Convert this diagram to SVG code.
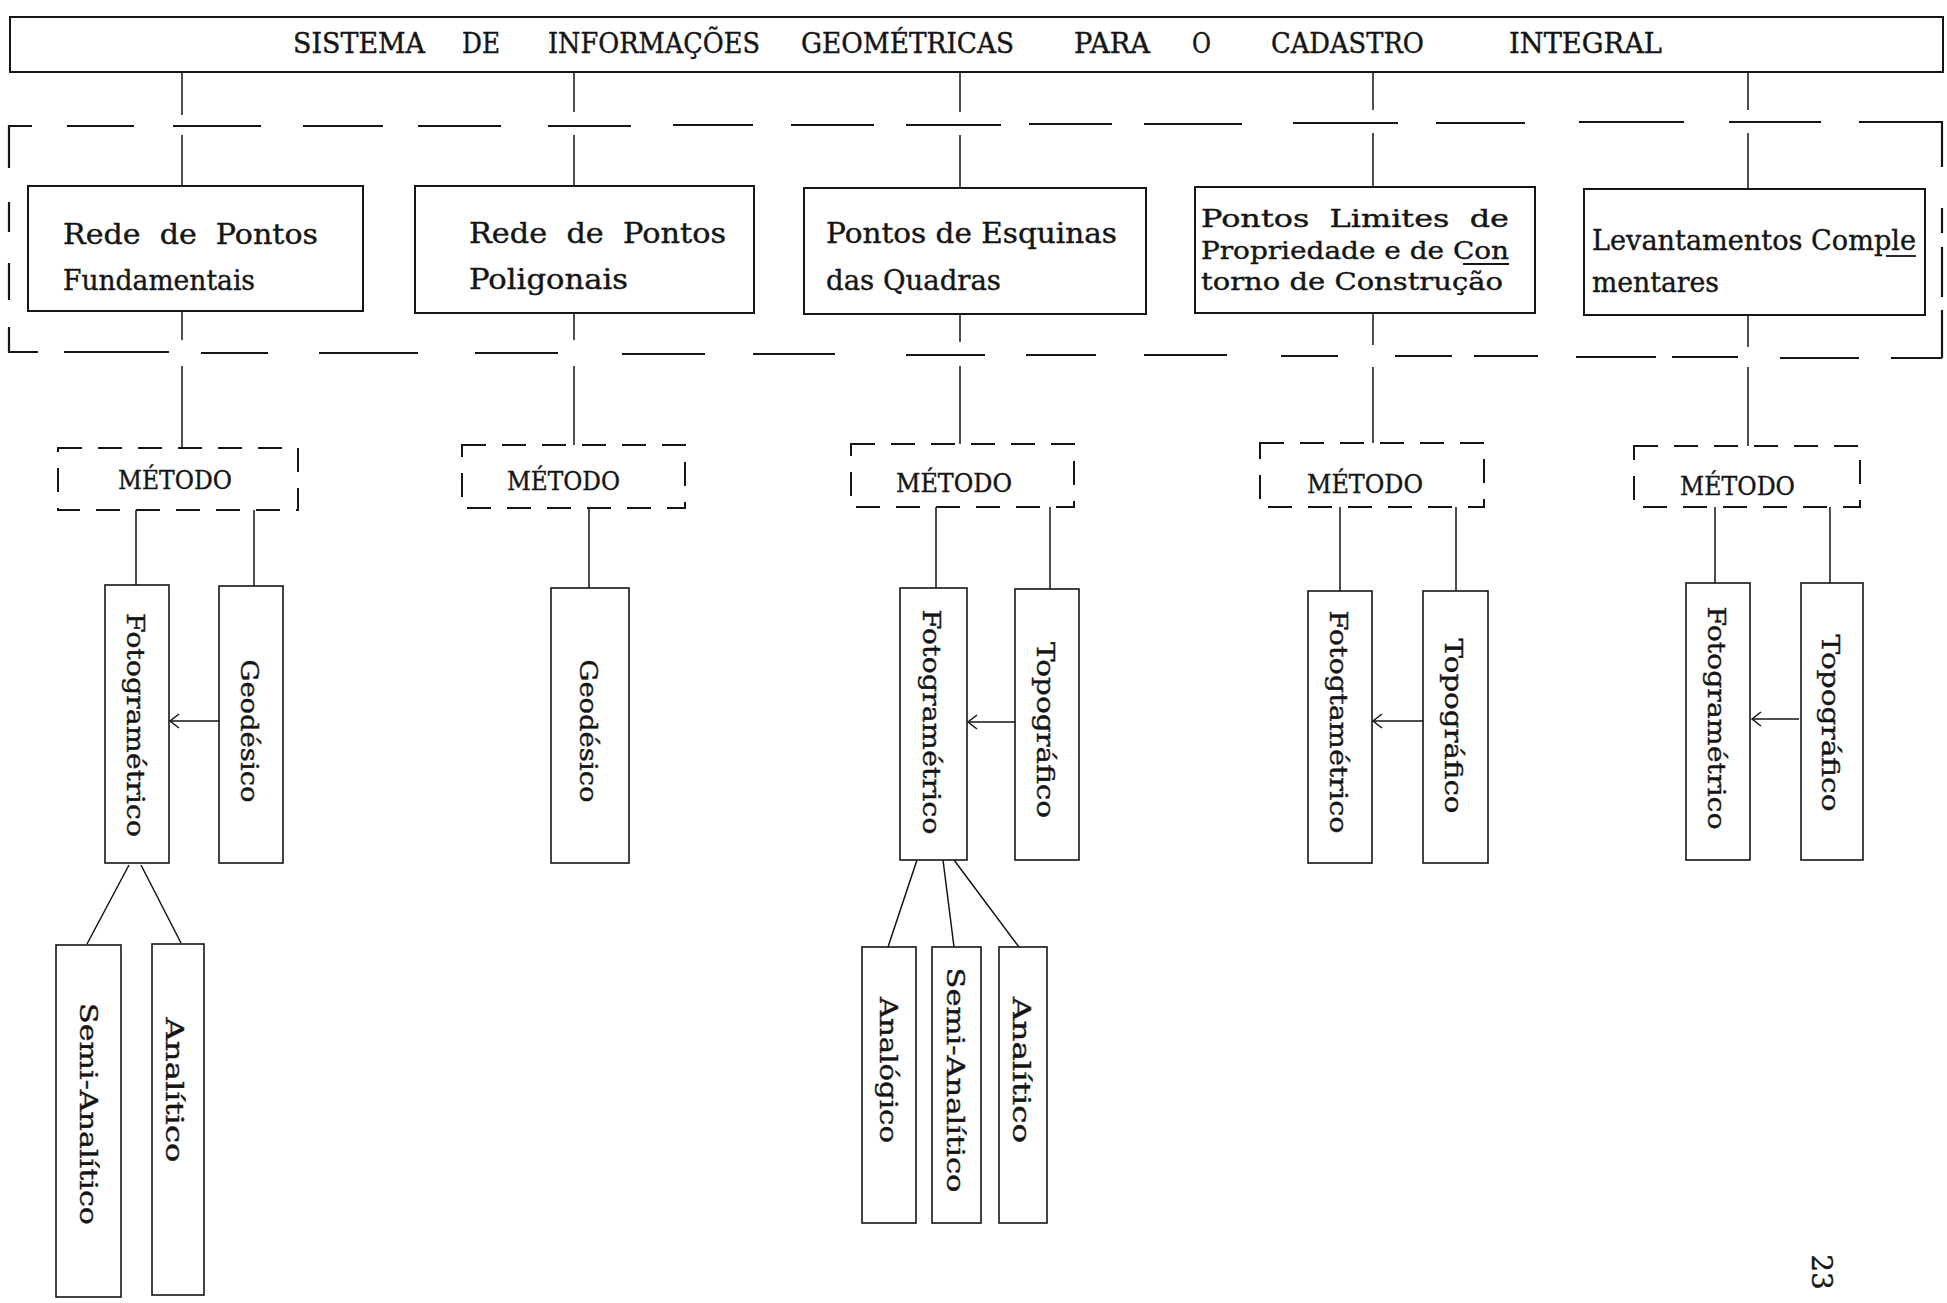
<svg xmlns="http://www.w3.org/2000/svg" width="1947" height="1303" viewBox="0 0 1947 1303">
<style>
.t { font-family: 'DejaVu Serif', 'Liberation Serif', serif; fill: #151515; stroke: #151515; stroke-width: 0.4; }
.box { fill: none; stroke: #151515; stroke-width: 2; }
.leaf { fill: none; stroke: #151515; stroke-width: 1.6; }
.dbox { fill: none; stroke: #151515; stroke-width: 2; stroke-dasharray: 24 16; }
.c { fill: none; stroke: #151515; stroke-width: 1.5; }
.dash { fill: none; stroke: #151515; stroke-width: 2.2; }
.ul { stroke: #151515; stroke-width: 1.8; }
</style>
<defs>
<marker id="ah" markerWidth="14" markerHeight="16" refX="11" refY="8" orient="auto" markerUnits="userSpaceOnUse">
<path d="M2,1 L11,8 L2,15" fill="none" stroke="#151515" stroke-width="1.5"/>
</marker>
</defs>
<rect width="1947" height="1303" fill="#ffffff"/>

<!-- large dashed frame -->
<g id="frame">
<path class="dash" d="M32,126 L9,126 L9,168 M9,202 L9,232 M9,263 L9,300 M9,327 L9,352 L38,352
M67,126 L134,126 M173,126 L261,126 M303,126 L383,126 M418,126 L501,126 M548,126 L631,126 M673,125 L753,125 M791,125 L874,125 M906,125 L1001,125 M1029,124 L1112,124 M1144,124 L1242,124 M1293,123 L1398,123 M1436,123 L1525,123 M1579,122 L1684,122 M1729,122 L1821,122 M1859,122 L1942,122 L1942,167 M1942,208 L1942,233 M1942,247 L1942,297 M1942,310 L1942,358
M64,352 L169,352 M201,353 L268,353 M319,353 L418,353 M475,353 L558,353 M622,354 L705,354 M753,354 L835,354 M906,355 L985,355 M1026,355 L1096,355 M1144,355 L1227,355 M1281,356 L1338,356 M1395,356 L1452,356 M1474,356 L1538,356 M1576,357 L1656,357 M1672,357 L1738,357 M1780,358 L1859,358 M1891,358 L1942,358"/>
</g>

<g id="connectors">
<!-- title to nodes -->
<path class="c" d="M182,72 L182,115 M182,135 L182,186 M182,312 L182,340 M182,366 L182,448"/>
<path class="c" d="M574,72 L574,112 M574,135 L574,186 M574,313 L574,340 M574,366 L574,445"/>
<path class="c" d="M960,72 L960,112 M960,135 L960,188 M960,314 L960,342 M960,366 L960,444"/>
<path class="c" d="M1373,72 L1373,110 M1373,133 L1373,187 M1373,314 L1373,345 M1373,367 L1373,443"/>
<path class="c" d="M1748,72 L1748,110 M1748,133 L1748,188 M1748,316 L1748,347 M1748,367 L1748,446"/>
<!-- metodo to leaves -->
<path class="c" d="M136,510 L136,585 M254,510 L254,586"/>
<path class="c" d="M589,508 L589,588"/>
<path class="c" d="M936,507 L936,588 M1050,507 L1050,589"/>
<path class="c" d="M1340,507 L1340,591 M1456,507 L1456,591"/>
<path class="c" d="M1715,507 L1715,583 M1830,507 L1830,583"/>
<!-- arrows -->
<line class="c" x1="219" y1="721" x2="170" y2="721" marker-end="url(#ah)"/>
<line class="c" x1="1015" y1="722" x2="968" y2="722" marker-end="url(#ah)"/>
<line class="c" x1="1423" y1="721" x2="1373" y2="721" marker-end="url(#ah)"/>
<line class="c" x1="1799" y1="719" x2="1752" y2="719" marker-end="url(#ah)"/>
<!-- sub branches -->
<path class="c" d="M129,865 L87,944 M141,865 L181,943"/>
<path class="c" d="M917,860 L888,947 M943,860 L954,947 M954,860 L1019,947"/>
</g>

<g id="title">
<rect class="box" x="10" y="17" width="1933" height="55"/>
<text class="t" font-size="27" x="293" y="53" textLength="132" lengthAdjust="spacingAndGlyphs">SISTEMA</text>
<text class="t" font-size="27" x="462" y="53" textLength="38" lengthAdjust="spacingAndGlyphs">DE</text>
<text class="t" font-size="27" x="548" y="53" textLength="212" lengthAdjust="spacingAndGlyphs">INFORMAÇÕES</text>
<text class="t" font-size="27" x="801" y="53" textLength="213" lengthAdjust="spacingAndGlyphs">GEOMÉTRICAS</text>
<text class="t" font-size="27" x="1074" y="53" textLength="76" lengthAdjust="spacingAndGlyphs">PARA</text>
<text class="t" font-size="27" x="1192" y="53" textLength="19" lengthAdjust="spacingAndGlyphs">O</text>
<text class="t" font-size="27" x="1271" y="53" textLength="153" lengthAdjust="spacingAndGlyphs">CADASTRO</text>
<text class="t" font-size="27" x="1509" y="53" textLength="153" lengthAdjust="spacingAndGlyphs">INTEGRAL</text>
</g>

<g id="node1">
<rect class="box" x="28" y="186" width="335" height="125"/>
<text class="t" font-size="28" x="63" y="244" textLength="255" lengthAdjust="spacingAndGlyphs" xml:space="preserve">Rede  de  Pontos</text>
<text class="t" font-size="28" x="63" y="290" textLength="192" lengthAdjust="spacingAndGlyphs">Fundamentais</text>
</g>
<g id="node2">
<rect class="box" x="415" y="186" width="339" height="127"/>
<text class="t" font-size="28" x="469" y="243" textLength="257" lengthAdjust="spacingAndGlyphs" xml:space="preserve">Rede  de  Pontos</text>
<text class="t" font-size="28" x="469" y="289" textLength="159" lengthAdjust="spacingAndGlyphs">Poligonais</text>
</g>
<g id="node3">
<rect class="box" x="804" y="188" width="342" height="126"/>
<text class="t" font-size="28" x="826" y="243" textLength="291" lengthAdjust="spacingAndGlyphs">Pontos de Esquinas</text>
<text class="t" font-size="28" x="826" y="290" textLength="175" lengthAdjust="spacingAndGlyphs">das Quadras</text>
</g>
<g id="node4">
<rect class="box" x="1195" y="187" width="340" height="126"/>
<text class="t" font-size="25" x="1201" y="227" textLength="308" lengthAdjust="spacingAndGlyphs" xml:space="preserve">Pontos  Limites  de</text>
<text class="t" font-size="25" x="1201" y="259" textLength="308" lengthAdjust="spacingAndGlyphs">Propriedade e de Con</text>
<line class="ul" x1="1463" y1="264" x2="1509" y2="264"/>
<text class="t" font-size="25" x="1201" y="290" textLength="302" lengthAdjust="spacingAndGlyphs">torno de Construção</text>
</g>
<g id="node5">
<rect class="box" x="1584" y="189" width="341" height="126"/>
<text class="t" font-size="28" x="1592" y="250" textLength="324" lengthAdjust="spacingAndGlyphs">Levantamentos Comple</text>
<line class="ul" x1="1886" y1="256" x2="1916" y2="256"/>
<text class="t" font-size="28" x="1592" y="292" textLength="127" lengthAdjust="spacingAndGlyphs">mentares</text>
</g>

<g id="metodo1">
<rect class="dbox" x="58" y="448" width="240" height="62"/>
<text class="t" font-size="26" x="118" y="489" textLength="114" lengthAdjust="spacingAndGlyphs">MÉTODO</text>
</g>
<g id="metodo2">
<rect class="dbox" x="462" y="445" width="223" height="63"/>
<text class="t" font-size="26" x="507" y="490" textLength="113" lengthAdjust="spacingAndGlyphs">MÉTODO</text>
</g>
<g id="metodo3">
<rect class="dbox" x="851" y="444" width="223" height="63"/>
<text class="t" font-size="26" x="896" y="492" textLength="116" lengthAdjust="spacingAndGlyphs">MÉTODO</text>
</g>
<g id="metodo4">
<rect class="dbox" x="1260" y="443" width="224" height="64"/>
<text class="t" font-size="26" x="1307" y="493" textLength="116" lengthAdjust="spacingAndGlyphs">MÉTODO</text>
</g>
<g id="metodo5">
<rect class="dbox" x="1634" y="446" width="226" height="61"/>
<text class="t" font-size="26" x="1680" y="495" textLength="115" lengthAdjust="spacingAndGlyphs">MÉTODO</text>
</g>

<g id="g1-foto">
<rect class="leaf" x="105" y="585" width="64" height="278"/>
<text class="t" font-size="25" text-anchor="middle" textLength="224" lengthAdjust="spacingAndGlyphs" transform="translate(127,725) rotate(90)">Fotogramétrico</text>
</g>
<g id="g1-geod">
<rect class="leaf" x="219" y="586" width="64" height="277"/>
<text class="t" font-size="25" text-anchor="middle" textLength="143" lengthAdjust="spacingAndGlyphs" transform="translate(241,731) rotate(90)">Geodésico</text>
</g>
<g id="g2-geod">
<rect class="leaf" x="551" y="588" width="78" height="275"/>
<text class="t" font-size="25" text-anchor="middle" textLength="143" lengthAdjust="spacingAndGlyphs" transform="translate(580,731) rotate(90)">Geodésico</text>
</g>
<g id="g3-foto">
<rect class="leaf" x="900" y="588" width="67" height="272"/>
<text class="t" font-size="25" text-anchor="middle" textLength="225" lengthAdjust="spacingAndGlyphs" transform="translate(923,722) rotate(90)">Fotogramétrico</text>
</g>
<g id="g3-topo">
<rect class="leaf" x="1015" y="589" width="64" height="271"/>
<text class="t" font-size="25" text-anchor="middle" textLength="176" lengthAdjust="spacingAndGlyphs" transform="translate(1037,730) rotate(90)">Topográfico</text>
</g>
<g id="g4-foto">
<rect class="leaf" x="1308" y="591" width="64" height="272"/>
<text class="t" font-size="25" text-anchor="middle" textLength="223" lengthAdjust="spacingAndGlyphs" transform="translate(1330,722) rotate(90)">Fotogtamétrico</text>
</g>
<g id="g4-topo">
<rect class="leaf" x="1423" y="591" width="65" height="272"/>
<text class="t" font-size="25" text-anchor="middle" textLength="175" lengthAdjust="spacingAndGlyphs" transform="translate(1445,726) rotate(90)">Topográfico</text>
</g>
<g id="g5-foto">
<rect class="leaf" x="1686" y="583" width="64" height="277"/>
<text class="t" font-size="25" text-anchor="middle" textLength="223" lengthAdjust="spacingAndGlyphs" transform="translate(1708,718) rotate(90)">Fotogramétrico</text>
</g>
<g id="g5-topo">
<rect class="leaf" x="1801" y="583" width="62" height="277"/>
<text class="t" font-size="25" text-anchor="middle" textLength="177" lengthAdjust="spacingAndGlyphs" transform="translate(1822,723) rotate(90)">Topográfico</text>
</g>

<g id="g1-semi">
<rect class="leaf" x="56" y="945" width="65" height="352"/>
<text class="t" font-size="25" text-anchor="middle" textLength="222" lengthAdjust="spacingAndGlyphs" transform="translate(80,1114) rotate(90)">Semi-Analítico</text>
</g>
<g id="g1-anal">
<rect class="leaf" x="152" y="944" width="52" height="351"/>
<text class="t" font-size="25" text-anchor="middle" textLength="145" lengthAdjust="spacingAndGlyphs" transform="translate(166,1090) rotate(90)">Analítico</text>
</g>
<g id="g3-analog">
<rect class="leaf" x="862" y="947" width="54" height="276"/>
<text class="t" font-size="25" text-anchor="middle" textLength="146" lengthAdjust="spacingAndGlyphs" transform="translate(880,1070) rotate(90)">Analógico</text>
</g>
<g id="g3-semi">
<rect class="leaf" x="932" y="947" width="49" height="276"/>
<text class="t" font-size="25" text-anchor="middle" textLength="225" lengthAdjust="spacingAndGlyphs" transform="translate(947,1080) rotate(90)">Semi-Analítico</text>
</g>
<g id="g3-anal">
<rect class="leaf" x="999" y="947" width="48" height="276"/>
<text class="t" font-size="25" text-anchor="middle" textLength="146" lengthAdjust="spacingAndGlyphs" transform="translate(1013,1070) rotate(90)">Analítico</text>
</g>

<g id="page">
<text class="t" font-size="28" text-anchor="middle" transform="translate(1812,1272) rotate(90)">23</text>
</g>
</svg>
